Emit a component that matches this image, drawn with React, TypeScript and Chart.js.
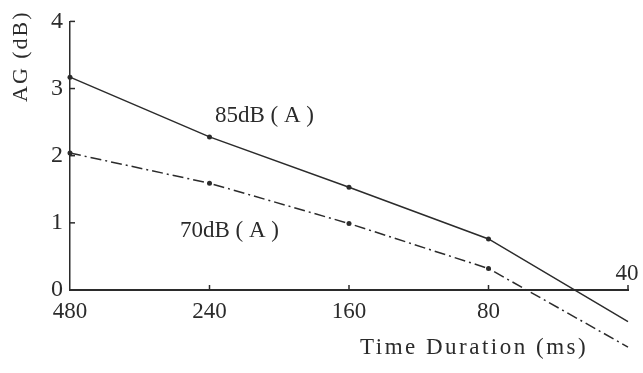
import { useEffect, useRef } from 'react';
import { Chart, registerables } from 'chart.js';

Chart.register(...registerables);

const durations = ['480', '240', '160', '80', '40'];
const gain85 = [3.17, 2.28, 1.53, 0.76, -0.47];
const gain70 = [2.04, 1.59, 0.99, 0.32, -0.85];
const yTickValues = [0, 1, 2, 3, 4];
const label85 = '85dB ( A )';
const label70 = '70dB ( A )';
const xTitle = 'Time Duration (ms)';
const yTitle = 'AG (dB)';

const INK = '#2b2b2b';
const FONT = "'Liberation Serif', 'DejaVu Serif', serif";

const overlayPlugin = {
  id: 'overlay',
  afterDraw(chart: any) {
    const { ctx, chartArea } = chart;
    const xs = chart.scales.x;
    const ys = chart.scales.y;
    ctx.save();
    ctx.strokeStyle = INK;
    ctx.fillStyle = INK;
    ctx.lineWidth = 1.5;
    // inward ticks on y axis
    yTickValues.forEach((v) => {
      if (v === 0) return;
      const py = ys.getPixelForValue(v);
      ctx.beginPath();
      ctx.moveTo(chartArea.left, py);
      ctx.lineTo(chartArea.left + 5, py);
      ctx.stroke();
    });
    // inward ticks on x axis
    durations.forEach((_, i) => {
      if (i === 0) return;
      const px = xs.getPixelForValue(i);
      ctx.beginPath();
      ctx.moveTo(px, chartArea.bottom);
      ctx.lineTo(px, chartArea.bottom - 5);
      ctx.stroke();
    });
    // last category label above the axis
    ctx.font = `23px ${FONT}`;
    ctx.textAlign = 'center';
    ctx.textBaseline = 'alphabetic';
    ctx.fillText(durations[durations.length - 1], xs.getPixelForValue(durations.length - 1) - 1, chartArea.bottom - 10);
    // series labels
    ctx.textAlign = 'left';
    ctx.font = `23px ${FONT}`;
    ctx.fillText(label85, 215, 122);
    ctx.fillText(label70, 180, 237);
    // x title
    ctx.font = `23px ${FONT}`;
    (ctx as any).letterSpacing = '2.5px';
    ctx.fillText(xTitle, 360, 354);
    // y title
    ctx.translate(27, 102);
    ctx.rotate(-Math.PI / 2);
    (ctx as any).letterSpacing = '2px';
    ctx.font = `22px ${FONT}`;
    ctx.fillText(yTitle, 0, 0);
    ctx.restore();
  },
};

export default function App() {
  const ref = useRef<HTMLCanvasElement | null>(null);
  useEffect(() => {
    if (!ref.current) return;
    const chart = new Chart(ref.current, {
      type: 'line',
      data: {
        labels: durations,
        datasets: [
          {
            label: label85,
            data: gain85,
            borderColor: INK,
            backgroundColor: INK,
            borderWidth: 1.5,
            pointRadius: 2.5,
            pointBorderWidth: 0,
            clip: false as any,
            tension: 0,
          },
          {
            label: label70,
            data: gain70,
            borderColor: INK,
            backgroundColor: INK,
            borderWidth: 1.5,
            borderDash: [11, 4, 2, 4],
            pointRadius: 2.5,
            pointBorderWidth: 0,
            clip: false as any,
            tension: 0,
          },
        ],
      },
      options: {
        animation: false,
        responsive: true,
        maintainAspectRatio: false,
        layout: { padding: { left: 30, right: 15, top: 19, bottom: 23 } },
        plugins: { legend: { display: false }, tooltip: { enabled: false } },
        scales: {
          x: {
            type: 'category',
            offset: false,
            grid: { display: false, drawTicks: false },
            border: { display: true, color: INK, width: 2 },
            ticks: {
              autoSkip: false,
              maxRotation: 0,
              padding: 8,
              color: INK,
              font: { family: FONT, size: 23 },
              callback: (_v: any, i: number) => (i === durations.length - 1 ? '' : durations[i]),
            },
            afterFit: (s: any) => {
              s.height = 60;
            },
          },
          y: {
            min: 0,
            max: 4,
            grid: { display: false, drawTicks: false },
            border: { display: true, color: INK, width: 1.5 },
            ticks: {
              stepSize: 1,
              padding: 7,
              color: INK,
              font: { family: FONT, size: 24 },
            },
            afterFit: (s: any) => {
              s.width = 40;
            },
          },
        },
      },
      plugins: [overlayPlugin],
    });
    return () => chart.destroy();
  }, []);
  return (
    <div style={{ position: 'fixed', left: 0, top: 0, width: 643, height: 373, background: '#fff' }}>
      <canvas ref={ref} />
    </div>
  );
}
